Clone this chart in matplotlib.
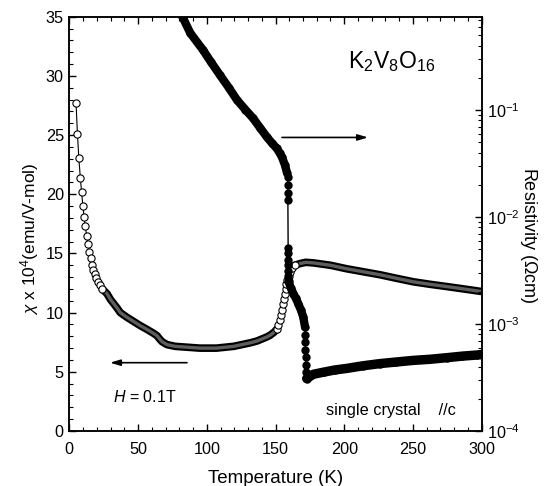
import numpy as np
import matplotlib
matplotlib.use("Agg")
import matplotlib.pyplot as plt
from matplotlib.ticker import MultipleLocator, LogLocator, NullFormatter

plt.rcParams['font.family'] = ['Liberation Sans', 'DejaVu Sans']
plt.rcParams['mathtext.fontset'] = 'custom'
plt.rcParams['mathtext.rm'] = 'Liberation Sans'
plt.rcParams['mathtext.it'] = 'Liberation Sans:italic'

# susceptibility (open circles), chi x 10^4 emu/V-mol
T_chi_low = [4.9, 5.9, 6.9, 8.0, 8.9, 9.9, 10.7, 11.6, 12.6, 13.6, 14.5, 15.5, 16.4, 17.4, 18.5, 19.7, 21.0, 22.5, 24.0]
chi_low = [27.7, 25.1, 23.1, 21.4, 20.2, 19.0, 18.1, 17.3, 16.5, 15.8, 15.1, 14.6, 14.0, 13.6, 13.3, 12.9, 12.6, 12.3, 12.0]
T_chi_mid = [24.0, 27.4, 30.0, 34.7, 37.1, 42.0, 51.6, 57.0, 61.3, 63.8, 65.5, 67.4, 71.0, 77.0, 83.0, 95.0, 107.0,
             119.5, 131.7, 136.5, 143.8, 146.2, 149.0, 151.0]
chi_mid = [12.0, 11.6, 11.1, 10.4, 10.0, 9.6, 8.9, 8.55, 8.25, 8.05, 7.8, 7.55, 7.3, 7.15, 7.1, 7.0, 7.0,
           7.15, 7.45, 7.6, 7.95, 8.1, 8.35, 8.6]
T_chi_jump = [151.0, 152.0, 153.0, 153.8, 154.5, 155.2, 155.9, 156.6, 157.3, 158.0, 158.7, 159.5, 160.5, 162.0, 164.0]
chi_jump = [8.6, 8.95, 9.35, 9.8, 10.25, 10.7, 11.15, 11.6, 12.0, 12.4, 12.75, 13.1, 13.45, 13.75, 14.0]
T_chi_high = [164.0, 168.0, 172.0, 177.7, 190.0, 202.0, 214.0, 226.0, 238.0, 250.5, 262.0, 274.7, 287.0, 298.9, 300.0]
chi_high = [14.0, 14.15, 14.25, 14.2, 14.0, 13.7, 13.45, 13.2, 12.9, 12.6, 12.4, 12.2, 12.0, 11.8, 11.8]

# resistivity (filled circles), log10(rho / Ohm cm)
T_rho_a = [81.0, 82.7, 88.0, 97.3, 103.0, 109.6, 116.0, 122.0, 128.0, 133.8, 139.0, 143.8, 147.5, 150.9, 153.0,
           154.7, 156.9, 158.4]
lrho_a = [-0.10, -0.139, -0.28, -0.439, -0.55, -0.673, -0.79, -0.906, -0.995, -1.078, -1.17, -1.253, -1.31,
          -1.358, -1.40, -1.44, -1.515, -1.589]
T_rho_b = [159.0, 159.0, 159.0, 159.0, 159.2, 159.2, 159.2, 159.2, 159.2, 159.3]
lrho_b = [-1.627, -1.70, -1.777, -1.842, -2.29, -2.337, -2.403, -2.45, -2.50, -2.55]
T_rho_c = [159.5, 161.0, 163.0, 164.8, 166.6, 168.5, 170.2, 171.5]
lrho_c = [-2.60, -2.66, -2.715, -2.76, -2.81, -2.87, -2.934, -3.03]
T_rho_d = [171.6, 171.7, 171.8, 172.0, 172.2, 172.4]
lrho_d = [-3.10, -3.17, -3.24, -3.31, -3.38, -3.45]
T_rho_e = [172.7, 177.5, 185.0, 193.0, 201.8, 214.0, 226.0, 238.0, 250.2, 262.0, 274.5, 286.0, 296.4, 300.0]
lrho_e = [-3.51, -3.47, -3.45, -3.43, -3.415, -3.39, -3.37, -3.355, -3.34, -3.33, -3.315, -3.30, -3.29, -3.285]

fig = plt.figure(figsize=(5.55, 4.86), dpi=100)
ax = fig.add_axes([0.1249, 0.1132, 0.7430, 0.8524])
ax2 = ax.twinx()

# chi curve
band = dict(color='black', lw=5.5, solid_capstyle='round', zorder=2)
inner = dict(color='#5e5e5e', lw=2.4, solid_capstyle='round', zorder=2.1)
for tt, cc in [(T_chi_mid, chi_mid), (T_chi_high, chi_high)]:
    ax.plot(tt, cc, **band)
    ax.plot(tt, cc, **inner)
ax.plot(T_chi_low + T_chi_mid, chi_low + chi_mid, color='black', lw=0.8, zorder=1.5)
ax.plot(T_chi_jump, chi_jump, color='black', lw=0.8, zorder=1.5)
circ = dict(ls='none', marker='o', ms=5.2, mfc='white', mec='black', mew=0.8, zorder=3)
ax.plot(T_chi_low, chi_low, **circ)
ax.plot(T_chi_jump, chi_jump, **circ)

# resistivity curve
T_all = T_rho_a + T_rho_b + T_rho_c + T_rho_d + T_rho_e
rho_all = 10.0 ** np.array(lrho_a + lrho_b + lrho_c + lrho_d + lrho_e)
ax2.plot(T_all, rho_all, color='black', lw=1.0, marker='o', ms=5, mfc='black', mec='black', zorder=3)
for tt, ll, w in [(T_rho_a, lrho_a, 6.0), (T_rho_c, lrho_c, 6.0), (T_rho_e, lrho_e, 6.8)]:
    ax2.plot(tt, 10.0 ** np.array(ll), color='black', lw=w, solid_capstyle='round', zorder=3)

ax.set_xlim(0, 300)
ax.set_ylim(0, 35)
ax2.set_ylim(1e-4, 0.746)
ax2.set_yscale('log')

ax.xaxis.set_major_locator(MultipleLocator(50))
ax.xaxis.set_minor_locator(MultipleLocator(10))
ax.yaxis.set_major_locator(MultipleLocator(5))
ax.yaxis.set_minor_locator(MultipleLocator(1))
ax2.yaxis.set_major_locator(LogLocator(base=10, numticks=10))
ax2.yaxis.set_minor_locator(LogLocator(base=10, subs=np.arange(2, 10), numticks=10))
ax2.yaxis.set_minor_formatter(NullFormatter())

ax.tick_params(axis='x', which='both', direction='in', top=True, labelsize=11.7, pad=8)
ax.tick_params(axis='y', which='both', direction='in', right=False, labelsize=11.7, pad=4)
ax.tick_params(which='major', length=5, width=1)
ax.tick_params(which='minor', length=3, width=0.8)
ax2.tick_params(axis='y', which='both', direction='in', labelsize=11.7, pad=4)
ax2.tick_params(which='major', length=5, width=1)
ax2.tick_params(which='minor', length=3, width=0.8)
for a in (ax, ax2):
    for s in a.spines.values():
        s.set_linewidth(1.1)

ax.set_xlabel('Temperature (K)', fontsize=13.5, labelpad=9)
ax.set_ylabel(r'$\chi$ x 10$^4$(emu/V-mol)', fontsize=12.5)
ax.yaxis.set_label_coords(-0.068, 0.464)
ax2.set_ylabel(r'Resistivity ($\Omega$cm)', fontsize=13, rotation=270)
ax2.yaxis.set_label_coords(1.14, 0.473)

ax.text(234.7, 31.2, r'K$_2$V$_8$O$_{16}$', fontsize=16.5, ha='center', va='center')
ax.text(31.8, 2.9, r'$H$ = 0.1T', fontsize=11.5, ha='left', va='center')
ax.text(187, 1.77, 'single crystal    //c', fontsize=11.7, ha='left', va='center')

arrow = dict(arrowstyle='-|>,head_length=0.6,head_width=0.18', color='black', lw=1.2, shrinkA=0, shrinkB=0)
ax.annotate('', xy=(217.3, 24.8), xytext=(154.7, 24.8), arrowprops=arrow)
ax.annotate('', xy=(29.6, 5.77), xytext=(85.6, 5.77), arrowprops=arrow)

fig.savefig('out.png', dpi=100)
